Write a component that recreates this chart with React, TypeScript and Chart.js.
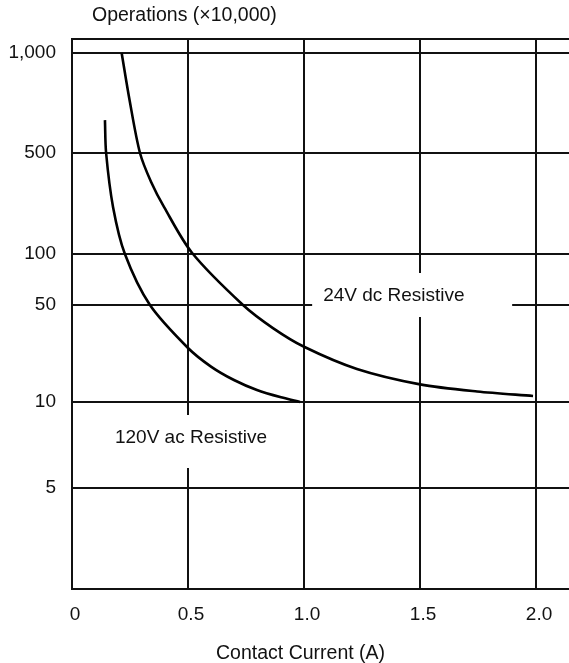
import React, { useEffect, useRef } from 'react';
import { Chart, LineController, LineElement, PointElement, LinearScale } from 'chart.js';

// ---- data ----
const currentTicks = [0, 0.5, 1.0, 1.5, 2.0];
const currentTickLabels = ['0', '0.5', '1.0', '1.5', '2.0'];
const operationTicks = [1100, 1000, 500, 100, 50, 10, 5];
const operationTickLabels = ['', '1,000', '500', '100', '50', '10', '5'];

const ac120Current = [0.142, 0.147, 0.177, 0.228, 0.336, 0.5, 0.599, 0.698, 0.797, 0.901, 0.983];
const ac120Operations = [628, 500, 211, 100, 50, 24.5, 18.0, 14.4, 12.2, 10.8, 10];

const dc24Current = [0.214, 0.248, 0.293, 0.341, 0.397, 0.517, 0.737, 0.866, 1.0, 1.228, 1.5, 1.746, 1.987];
const dc24Operations = [1000, 722, 500, 315, 211, 102, 50, 34.1, 25.0, 17.3, 13.4, 11.9, 11.05];

const seriesLabels = ['120V ac Resistive', '24V dc Resistive'];
const xTitle = 'Contact Current (A)';
const yTitle = 'Operations (×10,000)';

// ---- axis layout: the original uses an uneven spacing between tick values ----
// [value, relative offset from the top of the plot]
const AXIS_STOPS: [number, number][] = [
  [1100, 0],
  [1000, 14],
  [500, 114],
  [100, 215],
  [50, 266],
  [10, 363],
  [5, 449],
  [2.2, 550],
];
const AXIS_SPAN = AXIS_STOPS[AXIS_STOPS.length - 1][1];

function offsetFor(value: number): number {
  const lv = Math.log10(Math.max(value, 1e-6));
  let i = 0;
  for (i = 0; i < AXIS_STOPS.length - 2; i++) {
    if (value >= AXIS_STOPS[i + 1][0]) break;
  }
  const [v0, p0] = AXIS_STOPS[i];
  const [v1, p1] = AXIS_STOPS[i + 1];
  const t = (lv - Math.log10(v0)) / (Math.log10(v1) - Math.log10(v0));
  return p0 + t * (p1 - p0);
}

function valueFor(offset: number): number {
  let i = 0;
  for (i = 0; i < AXIS_STOPS.length - 2; i++) {
    if (offset <= AXIS_STOPS[i + 1][1]) break;
  }
  const [v0, p0] = AXIS_STOPS[i];
  const [v1, p1] = AXIS_STOPS[i + 1];
  const t = (offset - p0) / (p1 - p0);
  return Math.pow(10, Math.log10(v0) + t * (Math.log10(v1) - Math.log10(v0)));
}

class OperationsScale extends LinearScale {
  static id = 'operations';
  static defaults = {};
  determineDataLimits() {
    (this as any).min = AXIS_STOPS[AXIS_STOPS.length - 1][0];
    (this as any).max = AXIS_STOPS[0][0];
  }
  buildTicks() {
    return operationTicks.map((value) => ({ value }));
  }
  getPixelForValue(value: number) {
    const s = this as any;
    return s.top + (offsetFor(value) / AXIS_SPAN) * (s.bottom - s.top);
  }
  getValueForPixel(pixel: number) {
    const s = this as any;
    return valueFor(((pixel - s.top) / (s.bottom - s.top)) * AXIS_SPAN);
  }
}

Chart.register(LineController, LineElement, PointElement, LinearScale, OperationsScale);

const FONT = "'Liberation Sans', Arial, Helvetica, sans-serif";
const INK = '#111';

const labelsPlugin = {
  id: 'curveLabels',
  beforeDatasetsDraw(chart: any) {
    const { ctx } = chart;
    const x = chart.scales.x;
    const y = chart.scales.y;
    ctx.save();
    ctx.font = `19px ${FONT}`;
    ctx.textBaseline = 'middle';
    ctx.textAlign = 'left';

    // 24V dc label
    const y50 = y.getPixelForValue(50);
    const l1 = x.getPixelForValue(1.035);
    const r1 = x.getPixelForValue(1.897);
    ctx.fillStyle = '#fff';
    ctx.fillRect(l1, y50 - 32, r1 - l1, 44);
    ctx.fillStyle = INK;
    ctx.fillText(seriesLabels[1], l1 + 11, y50 - 9);

    // 120V ac label
    const y10 = y.getPixelForValue(10);
    const l2 = x.getPixelForValue(0.12);
    const r2 = x.getPixelForValue(0.92);
    ctx.fillStyle = '#fff';
    ctx.fillRect(l2, y10 + 13, r2 - l2, 53);
    ctx.fillStyle = INK;
    ctx.fillText(seriesLabels[0], x.getPixelForValue(0.185), y10 + 36);
    ctx.restore();
  },
  afterDraw(chart: any) {
    const { ctx, chartArea } = chart;
    const x = chart.scales.x;
    ctx.save();
    ctx.font = `19.5px ${FONT}`;
    ctx.fillStyle = INK;
    ctx.textBaseline = 'middle';
    ctx.textAlign = 'left';
    ctx.fillText(yTitle, chartArea.left + 20, 16);
    ctx.textAlign = 'center';
    ctx.fillText(xTitle, x.getPixelForValue(0.985), 654);
    ctx.restore();
  },
};

export default function App() {
  const ref = useRef<HTMLCanvasElement | null>(null);
  useEffect(() => {
    if (!ref.current) return;
    const lineStyle = {
      borderColor: '#000',
      borderWidth: 2.6,
      pointRadius: 0,
      tension: 0.3,
      fill: false,
    };
    const chart = new Chart(ref.current, {
      type: 'line',
      data: {
        datasets: [
          {
            label: seriesLabels[0],
            data: ac120Current.map((c, i) => ({ x: c, y: ac120Operations[i] })),
            ...lineStyle,
          },
          {
            label: seriesLabels[1],
            data: dc24Current.map((c, i) => ({ x: c, y: dc24Operations[i] })),
            ...lineStyle,
          },
        ],
      },
      options: {
        animation: false,
        responsive: false,
        devicePixelRatio: 1,
        layout: { padding: { top: 39, left: 0, right: 0, bottom: 0 } },
        plugins: { legend: { display: false }, tooltip: { enabled: false } },
        scales: {
          x: {
            type: 'linear',
            min: 0,
            max: 2.142,
            afterBuildTicks: (scale: any) => {
              scale.ticks = currentTicks.map((value) => ({ value }));
            },
            afterFit: (scale: any) => {
              scale.height = 74;
            },
            grid: { color: INK, lineWidth: 2, drawTicks: false },
            border: { color: INK, width: 2 },
            ticks: {
              autoSkip: false,
              maxRotation: 0,
              padding: 14,
              labelOffset: 3,
              color: INK,
              font: { family: FONT, size: 19 },
              callback: (_v: any, i: number) => currentTickLabels[i],
            },
          },
          y: {
            type: 'operations' as any,
            afterFit: (scale: any) => {
              scale.width = 72;
            },
            grid: { color: INK, lineWidth: 2, drawTicks: false },
            border: { color: INK, width: 2 },
            ticks: {
              autoSkip: false,
              padding: 16,
              color: INK,
              font: { family: FONT, size: 19 },
              callback: (_v: any, i: number) => operationTickLabels[i],
            },
          } as any,
        },
      },
      plugins: [labelsPlugin],
    });
    return () => chart.destroy();
  }, []);
  return (
    <div style={{ position: 'fixed', left: 0, top: 0, width: 569, height: 663, background: '#fff' }}>
      <canvas ref={ref} width={569} height={663} style={{ display: 'block' }} />
    </div>
  );
}
